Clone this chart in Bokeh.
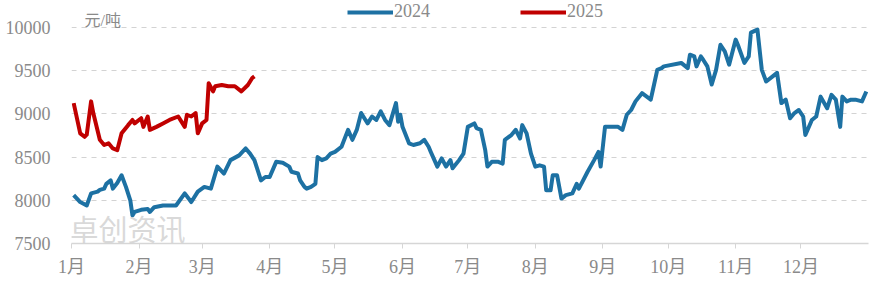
from bokeh.plotting import figure
from bokeh.models import Range1d, FixedTicker, Label, Legend, LegendItem, ColumnDataSource
from bokeh.embed import file_html
from bokeh.resources import INLINE

# ---- data (day of year, price in 元/吨) ----
days_2024 = [2, 5, 8, 10, 13, 14, 16, 17, 19, 20, 22, 24, 26, 28, 29, 30, 33, 36, 37, 39,
             43, 49, 53, 56, 59, 62, 65, 68, 71, 74, 78, 81, 83, 85, 88, 90, 92, 95, 98, 101,
             102, 105, 106, 108, 109, 111, 113, 114, 116, 118, 120, 122, 125, 128, 130, 132, 134, 136, 137, 139,
             141, 143, 145, 147, 150, 151, 152, 153, 156, 158, 161, 163, 165, 166, 169, 171, 173, 175, 176, 179,
             181, 183, 186, 187, 189, 191, 192, 194, 197, 199, 200, 203, 205, 207, 208, 210, 212, 214, 216, 218,
             219, 221, 222, 224, 226, 228, 231, 233, 234, 238, 241, 243, 244, 246, 249, 252, 254, 256, 258, 260,
             263, 267, 268, 270, 272, 273, 281, 284, 285, 287, 288, 290, 291, 293, 295, 297, 299, 301, 303, 306,
             307, 310, 312, 313, 316, 318, 320, 323, 325, 327, 329, 331, 333, 335, 337, 338, 341, 343, 345, 348,
             350, 352, 354, 355, 357, 359, 361, 364, 366]
price_2024 = [8060, 7980, 7940, 8080, 8100, 8120, 8135, 8190, 8230, 8135, 8200, 8290, 8155, 8000, 7825, 7865, 7890, 7900, 7865, 7920,
              7940, 7940, 8080, 7980, 8100, 8155, 8135, 8390, 8310, 8465, 8520, 8600, 8540, 8465, 8230, 8270, 8270, 8445, 8435, 8390,
              8330, 8310, 8230, 8155, 8135, 8155, 8190, 8500, 8465, 8485, 8540, 8560, 8620, 8815, 8700, 8815, 9010, 8930, 8890, 8970,
              8930, 9030, 8930, 8870, 9125, 8910, 8990, 8850, 8660, 8640, 8660, 8700, 8620, 8560, 8390, 8485, 8390, 8465, 8370, 8465,
              8540, 8850, 8890, 8835, 8815, 8580, 8390, 8445, 8445, 8425, 8700, 8755, 8815, 8715, 8870, 8775, 8540, 8390, 8405, 8390,
              8115, 8115, 8290, 8290, 8020, 8060, 8080, 8190, 8135, 8330, 8465, 8560, 8390, 8850, 8850, 8850, 8815, 8990, 9045, 9145,
              9240, 9165, 9280, 9510, 9530, 9550, 9590, 9530, 9685, 9665, 9550, 9665, 9630, 9550, 9340, 9510, 9800, 9725, 9570, 9860,
              9800, 9590, 9665, 9940, 9975, 9510, 9375, 9435, 9475, 9125, 9165, 8950, 9010, 9045, 8970, 8755, 8930, 8970, 9200, 9065,
              9220, 9165, 8850, 9200, 9145, 9165, 9165, 9145, 9260]

days_2025 = [2, 5, 7, 8, 10, 11, 14, 16, 18, 20, 22, 24, 27, 29, 30, 33, 34, 36, 37, 40,
             43, 46, 50, 53, 54, 56, 58, 59, 61, 63, 64, 66, 67, 70, 73, 76, 79, 82, 84, 85]
price_2025 = [9125, 8775, 8735, 8760, 9145, 9010, 8700, 8640, 8660, 8600, 8580, 8775, 8870, 8930, 8890, 8950, 8850, 8970, 8815, 8850,
              8890, 8930, 8970, 8850, 8990, 8970, 9010, 8775, 8890, 8930, 9355, 9260, 9320, 9335, 9320, 9320, 9260, 9335, 9415, 9435]

series_names = ["2024", "2025"]
month_ticks = [1, 32, 61, 92, 122, 153, 183, 214, 245, 275, 306, 336]
month_labels = ["1月", "2月", "3月", "4月", "5月", "6月", "7月", "8月", "9月", "10月", "11月", "12月"]
y_ticks = [7500, 8000, 8500, 9000, 9500, 10000]
unit_label = "元/吨"
watermark = "卓创资讯"

FONT = "'Liberation Serif', 'Noto Sans CJK SC', serif"
GRAY = "#8a8a8a"

# frame reaches the top of the canvas so legend and unit label are not clipped
p = figure(width=884, height=282, output_backend="svg", toolbar_location=None,
           x_range=Range1d(1, 367), y_range=Range1d(7500, 10312.5),
           min_border_left=71, min_border_right=16, min_border_top=0, min_border_bottom=39)
p.outline_line_color = None
p.background_fill_color = "white"
p.border_fill_color = "white"

# watermark
p.add_layout(Label(x=-2, y=-5, x_units="screen", y_units="screen", text=watermark,
                   text_font="Noto Sans CJK SC", text_font_size="29px",
                   text_color="#d2d2d2", text_alpha=0.85, text_baseline="bottom"))

src24 = ColumnDataSource(dict(x=days_2024, y=price_2024))
src25 = ColumnDataSource(dict(x=days_2025, y=price_2025))
r24 = p.line("x", "y", source=src24, line_color="#1d71a3", line_width=4, line_join="round")
r25 = p.line("x", "y", source=src25, line_color="#c00000", line_width=4, line_join="round")

# y axis
p.yaxis.ticker = FixedTicker(ticks=y_ticks)
p.yaxis.axis_line_color = None
p.yaxis.major_tick_line_color = None
p.yaxis.minor_tick_line_color = None
p.yaxis.major_label_text_font = FONT
p.yaxis.major_label_text_font_size = "18px"
p.yaxis.major_label_text_color = GRAY
p.yaxis.major_label_standoff = 15

p.ygrid.ticker = FixedTicker(ticks=y_ticks[1:])
p.ygrid.grid_line_color = "#d3d3d3"
p.ygrid.grid_line_dash = "5 5"
p.ygrid.grid_line_width = 1
p.xgrid.grid_line_color = None

# x axis
p.xaxis.ticker = FixedTicker(ticks=month_ticks)
p.xaxis.major_label_overrides = {t: l for t, l in zip(month_ticks, month_labels)}
p.xaxis.axis_line_color = "#d6d6d6"
p.xaxis.axis_line_width = 1.5
p.xaxis.major_tick_line_color = "#d6d6d6"
p.xaxis.major_tick_out = 5
p.xaxis.major_tick_in = 0
p.xaxis.minor_tick_line_color = None
p.xaxis.major_label_text_font = FONT
p.xaxis.major_label_text_font_size = "18px"
p.xaxis.major_label_text_color = GRAY
p.xaxis.major_label_standoff = 8

# unit label
p.add_layout(Label(x=13, y=223, x_units="screen", y_units="screen", text=unit_label,
                   text_font=FONT, text_font_size="16px", text_color=GRAY,
                   text_baseline="middle"))

# legends (one per item, placed above the data)
for r, name, xloc in [(r24, series_names[0], 276), (r25, series_names[1], 449)]:
    lg = Legend(items=[LegendItem(label=name, renderers=[r])], location=(xloc, 221),
                orientation="horizontal", padding=0, margin=0, spacing=0,
                glyph_width=46, glyph_height=20, label_standoff=1,
                label_text_font=FONT, label_text_font_size="18px", label_text_color=GRAY,
                border_line_alpha=0, background_fill_alpha=0)
    p.add_layout(lg)

open("out.html", "w").write(file_html(p, INLINE))
